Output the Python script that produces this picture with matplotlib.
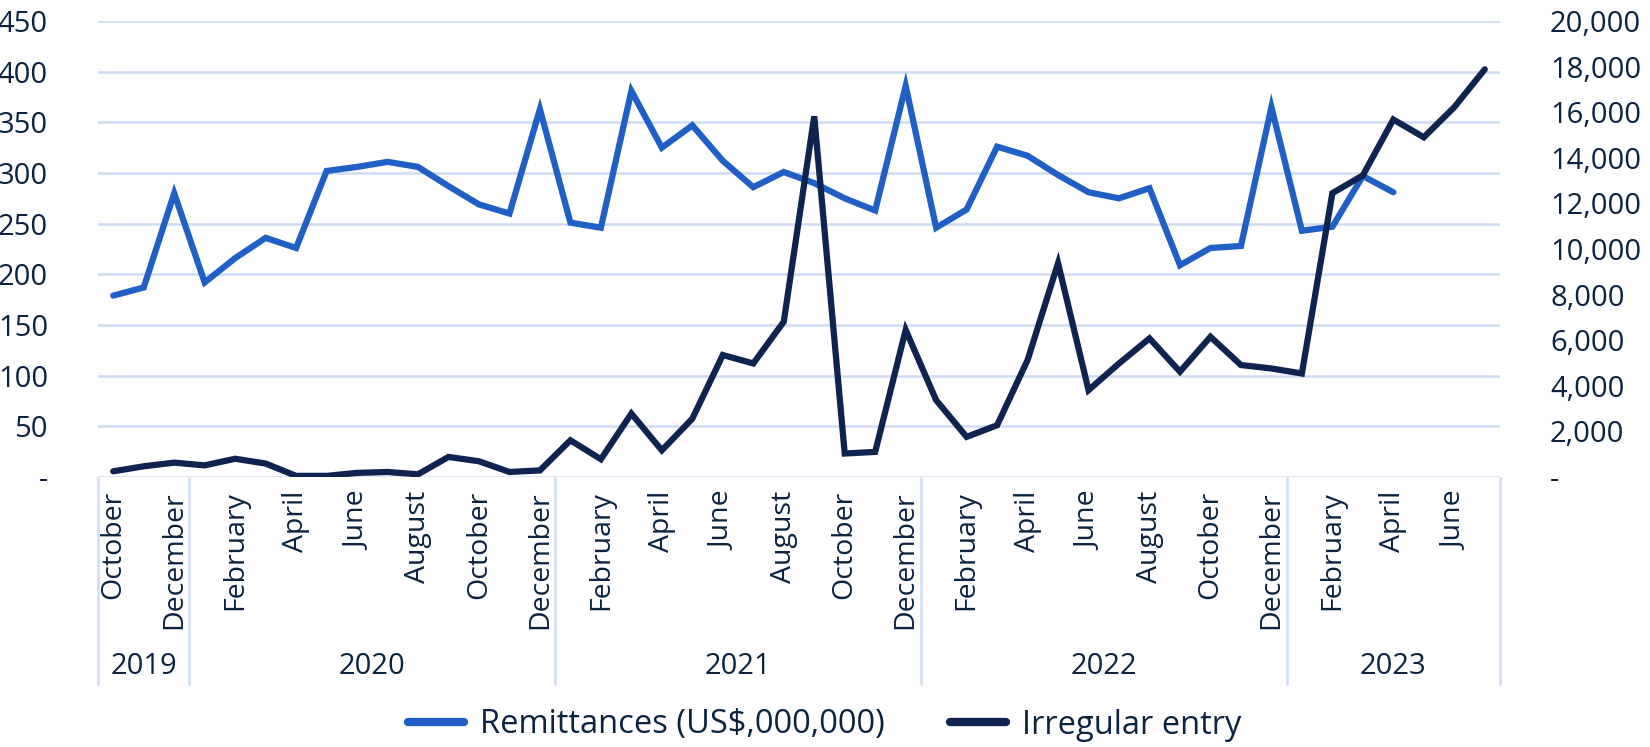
import matplotlib
matplotlib.use("Agg")
import matplotlib.pyplot as plt
from matplotlib.ticker import FuncFormatter

plt.rcParams['font.family'] = ['Open Sans', 'DejaVu Sans']

# months Oct 2019 .. Jul 2023
months = ["October", "November", "December",
          "January", "February", "March", "April", "May", "June",
          "July", "August", "September", "October", "November", "December",
          "January", "February", "March", "April", "May", "June",
          "July", "August", "September", "October", "November", "December",
          "January", "February", "March", "April", "May", "June",
          "July", "August", "September", "October", "November", "December",
          "January", "February", "March", "April", "May", "June", "July"]
years = ["2019", "2020", "2021", "2022", "2023"]
year_counts = [3, 12, 12, 12, 7]

# remittances (US$ millions), Oct 2019 .. Apr 2023
remittances = [179, 187, 280, 192, 216, 236, 226, 302, 306, 311, 306, 287,
               269, 260, 363, 251, 246, 381, 325, 347, 312, 286, 301, 290,
               275, 263, 386, 246, 264, 326, 317, 298, 281, 275, 285, 209,
               226, 228, 365, 243, 247, 297, 281]

# irregular entries, Oct 2019 .. Jul 2023
irregular = [250, 470, 630, 510, 800, 590, 50, 50, 180, 220, 120, 880,
             690, 220, 290, 1610, 780, 2780, 1170, 2560, 5350, 4980, 6810, 15820,
             1030, 1100, 6450, 3370, 1760, 2270, 5130, 9380, 3810, 4980, 6080, 4620,
             6150, 4910, 4760, 4540, 12450, 13230, 15680, 14900, 16220, 17880]

blue = "#1f5fc6"
navy = "#0f2350"
grid_c = "#cfdcf2"
text_c = "#0c2340"
fs = 21

fig = plt.figure(figsize=(16.5, 7.47), dpi=100)
ax = fig.add_axes([98 / 1650, 1 - 477 / 747, 1402 / 1650, 456 / 747])
ax2 = ax.twinx()

x_rem = list(range(len(remittances)))
x_irr = list(range(len(irregular)))
ax.plot(x_rem, remittances, color=blue, lw=4.5, solid_capstyle='round',
        solid_joinstyle='miter', zorder=3, label="Remittances (US$,000,000)")
ax2.plot(x_irr, irregular, color=navy, lw=4.5, solid_capstyle='round',
         solid_joinstyle='miter', zorder=3, label="Irregular entry")

ax.set_xlim(-0.5, len(months) - 0.5)
ax.set_ylim(0, 450)
ax2.set_ylim(0, 20000)
ax.set_yticks(range(0, 451, 50))
ax2.set_yticks(range(0, 20001, 2000))
ax.yaxis.set_major_formatter(FuncFormatter(lambda v, p: "-" if v == 0 else f"{int(v)}"))
ax2.yaxis.set_major_formatter(FuncFormatter(lambda v, p: "-" if v == 0 else f"{int(v):,}"))

ax.grid(axis='y', color=grid_c, lw=1.8)
ax.set_axisbelow(True)
for a in (ax, ax2):
    for s in a.spines.values():
        s.set_visible(False)

ax.tick_params(axis='y', length=0, pad=36, labelsize=fs, labelcolor=text_c)
ax2.tick_params(axis='y', length=0, pad=36, labelsize=fs, labelcolor=text_c)

tick_pos = list(range(0, len(months), 2))
ax.set_xticks(tick_pos)
ax.set_xticklabels([months[i] for i in tick_pos], rotation=90, va='top', ha='center')
ax.tick_params(axis='x', length=0, pad=10, labelsize=20.5, labelcolor=text_c)

# year grouping row
trans = ax.get_xaxis_transform()
bottom = -(685 - 477) / 456
bounds = [-0.5]
for c in year_counts:
    bounds.append(bounds[-1] + c)
ax.vlines(bounds, bottom, 0, transform=trans, color=grid_c, lw=1.8, clip_on=False)
for i, yr in enumerate(years):
    ax.text((bounds[i] + bounds[i + 1]) / 2, -(667 - 477) / 456, yr, transform=trans,
            ha='center', va='center', fontsize=fs, color=text_c)

h1, l1 = ax.get_legend_handles_labels()
h2, l2 = ax2.get_legend_handles_labels()
leg = fig.legend(h1 + h2, l1 + l2, loc='center', bbox_to_anchor=(0.5, 22 / 747),
                 ncol=2, frameon=False, fontsize=23.5, handlelength=1.7,
                 columnspacing=2.0, handletextpad=0.5)
for t in leg.get_texts():
    t.set_color(text_c)
for ln in leg.get_lines():
    ln.set_linewidth(6)

fig.savefig("out.png", dpi=100)
